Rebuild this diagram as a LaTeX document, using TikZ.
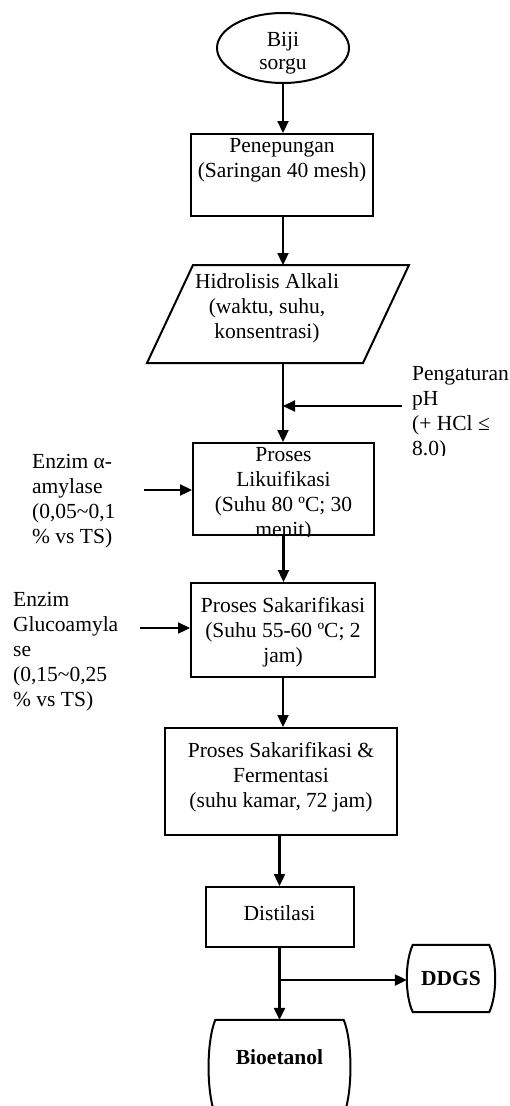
\documentclass[tikz,border=0pt]{standalone}
\usepackage{fontspec}
\setmainfont{Liberation Serif}
\usetikzlibrary{arrows.meta,shapes.geometric}
\begin{document}
\begin{tikzpicture}[x=1pt,y=-1pt,
  every node/.style={inner sep=0pt, font=\fontsize{21.5}{25}\selectfont},
  box/.style={draw, line width=2pt, rectangle},
  txt/.style={align=center},
  ltxt/.style={align=left, anchor=west},
  boldtxt/.style={font=\fontsize{21.5}{25}\selectfont\bfseries},
  arr/.style={line width=2.3pt, -{Triangle[length=12pt,width=11pt]}},
  outline/.style={line width=2pt}]
\useasboundingbox (0,0) rectangle (510,1106);
\clip (0,0) rectangle (510,1106);

% Biji sorgu
\node[draw, ellipse, line width=2pt, minimum width=132pt, minimum height=70pt] (bij) at (283,48) {};
\node[txt, font=\fontsize{21.5}{23}\selectfont] (bijT) at (283,53) {Biji\\sorgu};

% Penepungan
\node[box, minimum width=182pt, minimum height=82pt] (pen) at (282,175) {};
\node[txt] (penT) at (282,160) {Penepungan\\(Saringan 40 mesh)};

% Hidrolisis (parallelogram)
\coordinate (hA) at (193,265);
\coordinate (hB) at (409,265);
\coordinate (hC) at (363,363);
\coordinate (hD) at (147,363);
\draw[outline] (hA) -- (hB) -- (hC) -- (hD) -- cycle;
\node[txt] (hid) at (267,308) {Hidrolisis Alkali\\(waktu, suhu,\\konsentrasi)};
\coordinate (hidTop) at (283,265);
\coordinate (hidBot) at (283,363);

% Pengaturan pH
\begin{scope}
  \clip (395,350) rectangle (510,455);
  \node[ltxt] (ph) at (412,413) {Pengaturan\\pH\\(+ HCl ≤\\8.0)};
\end{scope}
\coordinate (phA) at (402,406);

% Likuifikasi
\node[box, minimum width=181pt, minimum height=92pt] (lik) at (283.5,489) {};
\begin{scope}
  \clip (lik.north west) rectangle (lik.south east);
  \node[txt] (likT) at (283.5,494.5) {Proses\\Likuifikasi\\(Suhu 80 ºC; 30\\menit)};
\end{scope}

% Enzim alpha-amylase
\node[ltxt] (ea) at (32,501) {Enzim α-\\amylase\\(0,05\textasciitilde 0,1\\\% vs TS)};
\coordinate (eaA) at (144,490);

% Sakarifikasi
\node[box, minimum width=184pt, minimum height=94pt] (sak) at (283,630) {};
\node[txt] (sakT) at (283,632.7) {Proses Sakarifikasi\\(Suhu 55-60 ºC; 2\\jam)};

% Enzim Glucoamylase
\node[ltxt] (gl) at (13,651.6) {Enzim\\Glucoamyla\\se\\(0,15\textasciitilde 0,25\\\% vs TS)};
\coordinate (glA) at (140,628);

% Sakarifikasi & Fermentasi
\node[box, minimum width=232pt, minimum height=107pt] (fer) at (281,781.5) {};
\node[txt] (ferT) at (281,777) {Proses Sakarifikasi \&\\Fermentasi\\(suhu kamar, 72 jam)};

% Distilasi
\node[box, minimum width=148pt, minimum height=60pt] (dis) at (279.5,917) {};
\node[txt] (disT) at (279.5,913) {Distilasi};

% DDGS
\node[boldtxt, minimum width=76pt, minimum height=67pt] (ddg) at (451,978.5) {DDGS};
\draw[outline] (ddg.north west) -- (ddg.north east)
  .. controls ([shift={(8,17)}]ddg.north east) and ([shift={(8,-17)}]ddg.south east) .. (ddg.south east)
  -- (ddg.south west)
  .. controls ([shift={(-8,-17)}]ddg.south west) and ([shift={(-8,17)}]ddg.north west) .. (ddg.north west)
  -- cycle;
\coordinate (ddgIn) at ([xshift=-6pt]ddg.west);

% Bioetanol
\node[boldtxt, minimum width=128pt, minimum height=74pt] (bio) at (279.5,1057) {Bioetanol};
\coordinate (bioBR) at ([shift={(0,95)}]bio.north east);
\coordinate (bioBL) at ([shift={(0,95)}]bio.north west);
\draw[outline] (bio.north west) -- (bio.north east)
  .. controls ([shift={(9,22)}]bio.north east) and ([shift={(9,-22)}]bioBR) .. (bioBR)
  -- (bioBL)
  .. controls ([shift={(-9,-22)}]bioBL) and ([shift={(-9,22)}]bio.north west) .. (bio.north west)
  -- cycle;

% Connectors
\draw[arr] (bij.south) -- (bij.south |- pen.north);
\draw[arr] (hidTop |- pen.south) -- (hidTop);
\draw[arr] (hidBot) -- (hidBot |- lik.north);
\draw[arr] (phA) -- (phA -| hidBot);
\draw[arr] (eaA) -- (eaA -| lik.west);
\draw[arr] (lik.south) -- (lik.south |- sak.north);
\draw[arr] (glA) -- (glA -| sak.west);
\draw[arr] (sak.south) -- (sak.south |- fer.north);
\draw[arr] (dis.north |- fer.south) -- (dis.north);
\draw[arr] (dis.south) -- (bio.north);
\path (dis.south) ++(0,32) coordinate (jn);
\draw[arr] (jn) -- (jn -| ddgIn);
\end{tikzpicture}
\end{document}
